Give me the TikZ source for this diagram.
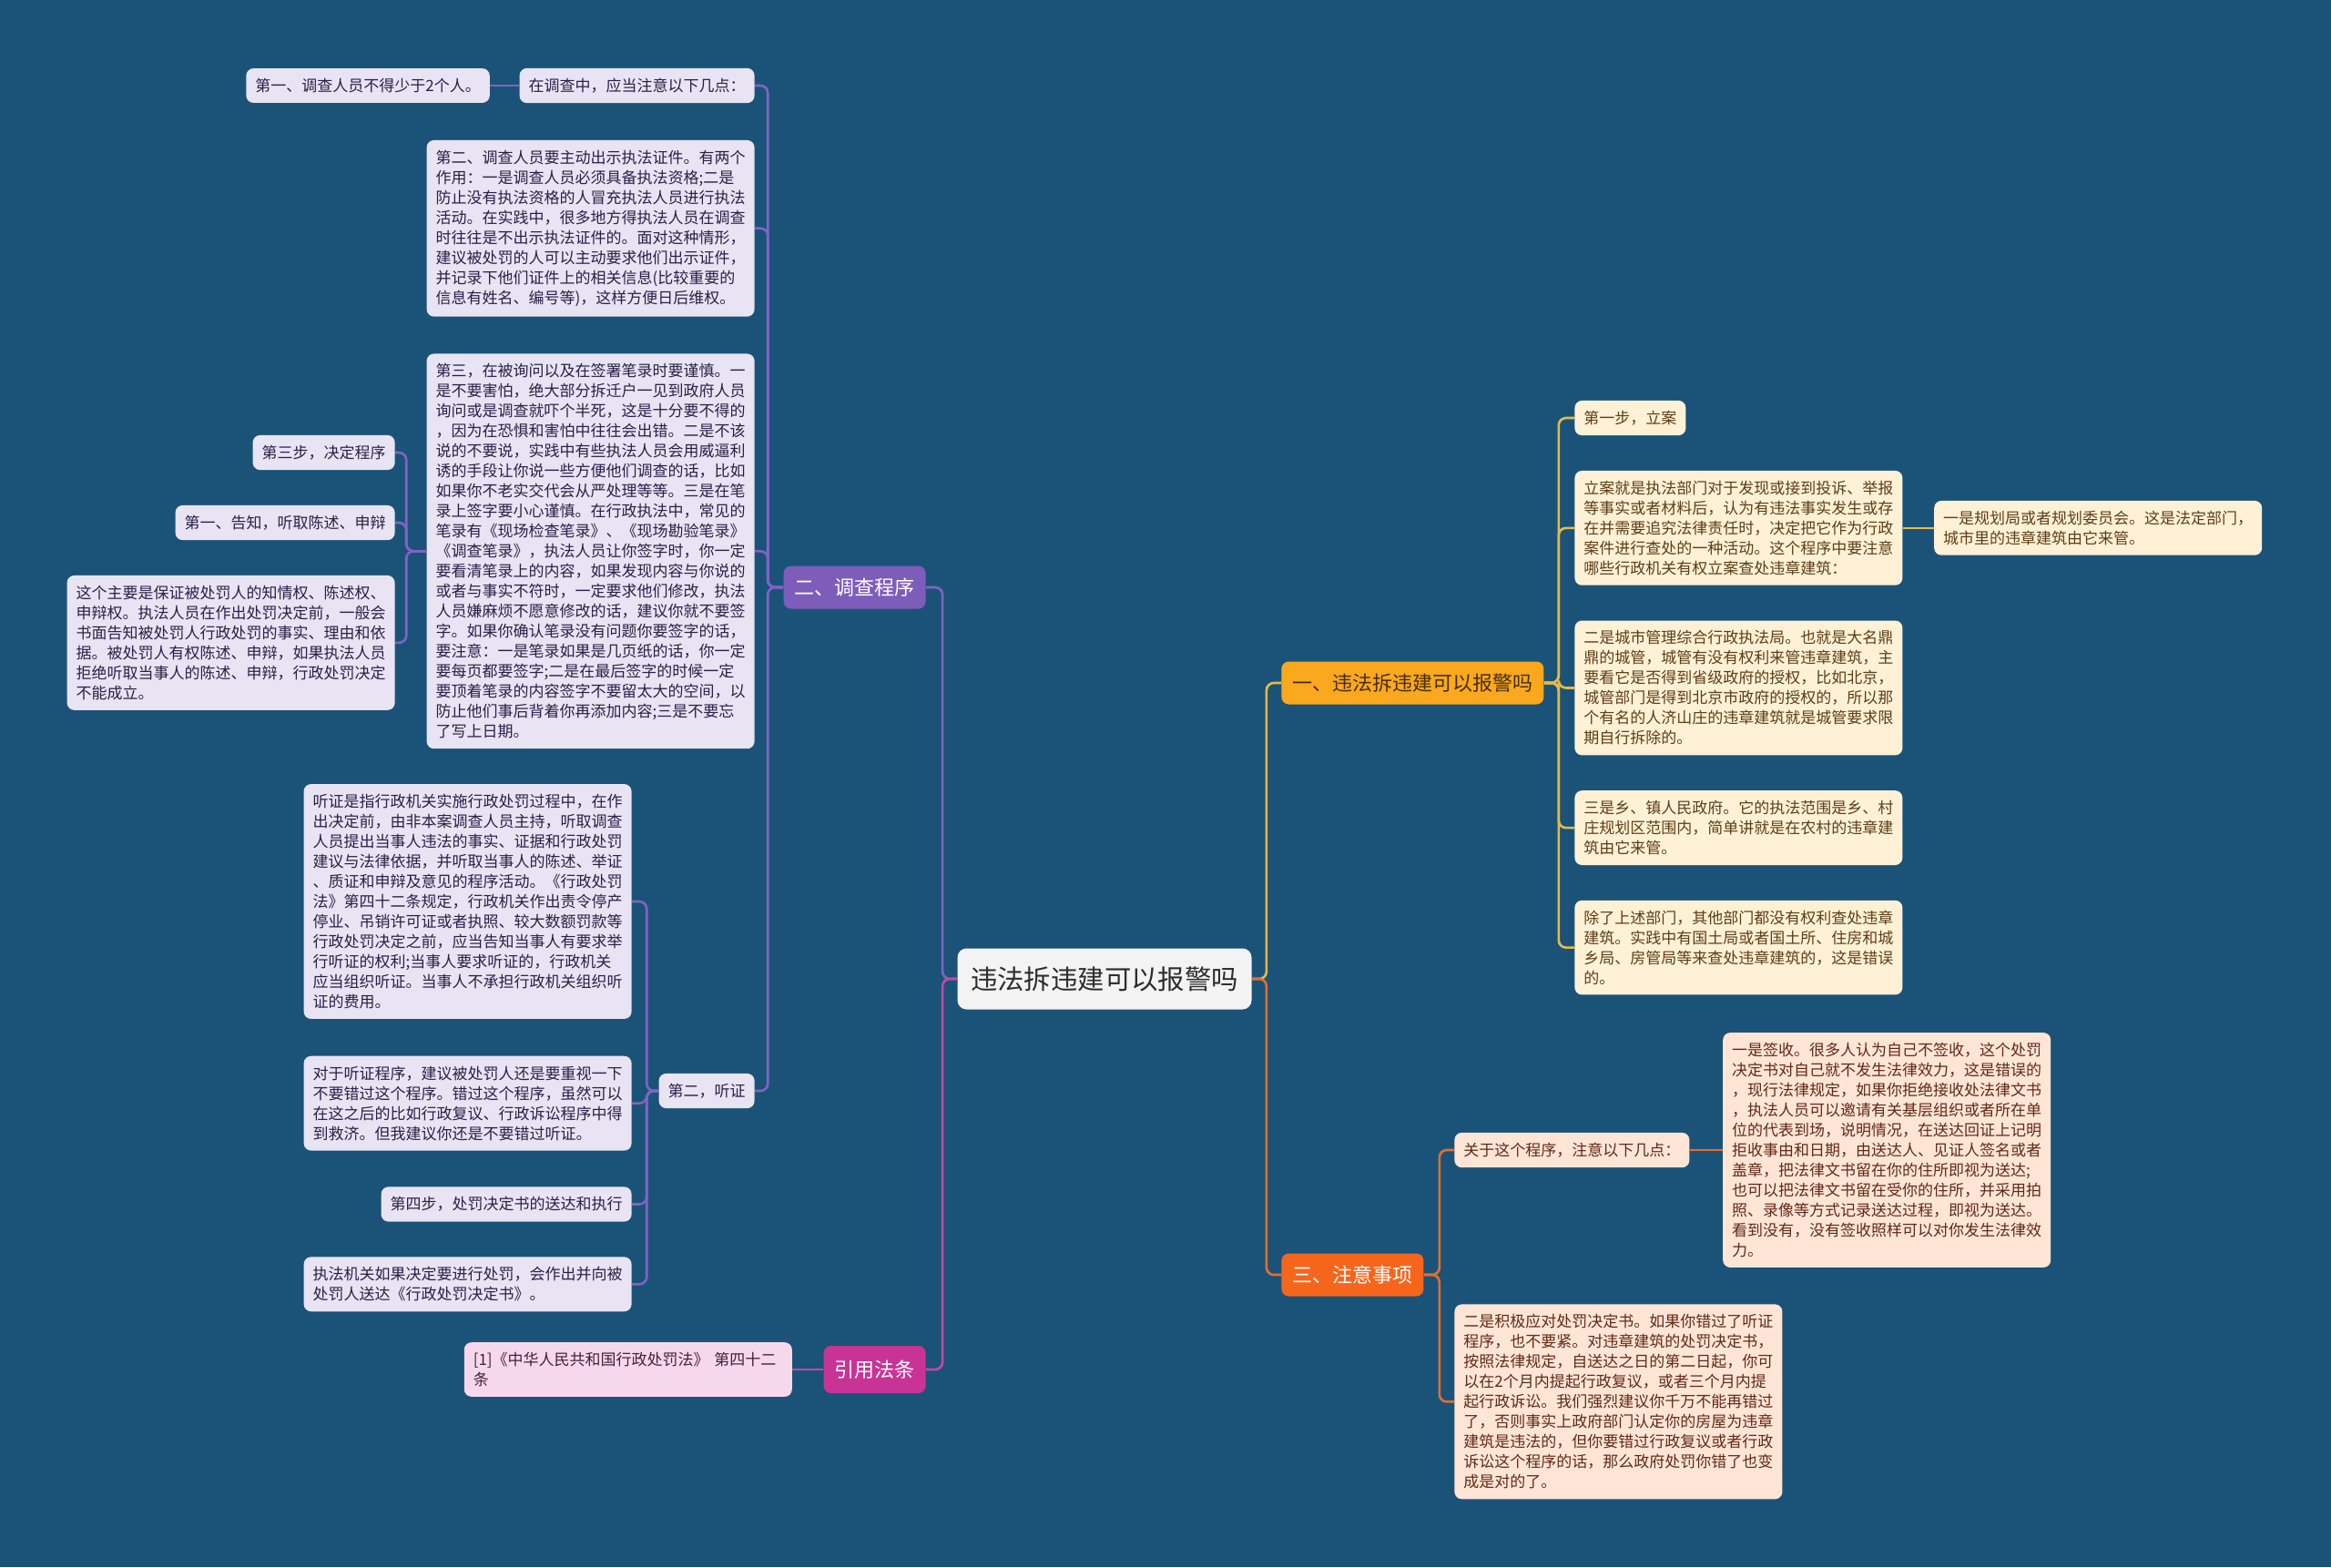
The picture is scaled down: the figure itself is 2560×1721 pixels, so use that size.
\documentclass[tikz,border=0pt]{standalone}
\usepackage{fontspec}
\newfontfamily\cjk{Noto Sans CJK SC}
\usetikzlibrary{positioning}

\definecolor{bgblue}{RGB}{27,83,120}
\definecolor{rootfill}{RGB}{243,243,243}
\definecolor{roottext}{RGB}{45,45,45}
\definecolor{mainY}{RGB}{250,168,30}
\definecolor{mainYtext}{RGB}{70,45,10}
\definecolor{mainR}{RGB}{245,102,28}
\definecolor{mainP}{RGB}{126,93,186}
\definecolor{mainM}{RGB}{200,52,150}
\definecolor{lineY}{RGB}{232,186,72}
\definecolor{lineR}{RGB}{230,110,45}
\definecolor{lineP}{RGB}{128,100,196}
\definecolor{lineM}{RGB}{198,72,160}
\definecolor{leafYfill}{RGB}{255,241,214}
\definecolor{leafYtext}{RGB}{92,62,22}
\definecolor{leafRfill}{RGB}{255,229,214}
\definecolor{leafRtext}{RGB}{95,42,22}
\definecolor{leafPfill}{RGB}{232,228,243}
\definecolor{leafPtext}{RGB}{42,32,72}
\definecolor{leafMfill}{RGB}{246,216,236}
\definecolor{leafMtext}{RGB}{72,30,62}

\newcommand\leaffont{\cjk\fontsize{8.5pt}{11pt}\selectfont}
\newcommand\branchfont{\cjk\fontsize{11pt}{13pt}\selectfont}
\newcommand\rootfont{\cjk\fontsize{14.7pt}{17pt}\selectfont}

\begin{document}
\begin{tikzpicture}[x=0.5pt, y=-0.5pt]

\tikzset{
    rootbox/.style={fill=rootfill, text=roottext, rounded corners=5pt, minimum width=161.5pt, minimum height=33.5pt, font=\rootfont},
    mainbox/.style={rounded corners=4pt, inner xsep=6pt, inner ysep=0pt, minimum height=23.5pt, font=\branchfont},
    leaf/.style={rounded corners=4pt, inner xsep=5pt, inner ysep=5.5pt, align=left, font=\leaffont},
    leafY/.style={leaf, fill=leafYfill, text=leafYtext},
    leafR/.style={leaf, fill=leafRfill, text=leafRtext},
    leafP/.style={leaf, fill=leafPfill, text=leafPtext},
    leafM/.style={leaf, fill=leafMfill, text=leafMtext},
    ln/.style={line width=1.3pt, rounded corners=4pt},
    lnY/.style={ln, draw=lineY},
    lnR/.style={ln, draw=lineR},
    lnP/.style={ln, draw=lineP},
    lnM/.style={ln, draw=lineM}
}

%background
\fill[bgblue] (0,0) rectangle (2560,1721);

%root
\node[rootbox] (root) at (1213,1075) {违法拆违建可以报警吗};

%%%%%%%%%%%%%%%%%%%%%%%%%%%%%%%%%%%%%%%%%%%%%%%%%%%%%%%%%
%                       right side                      %
%%%%%%%%%%%%%%%%%%%%%%%%%%%%%%%%%%%%%%%%%%%%%%%%%%%%%%%%%

%branch one
\node[mainbox, fill=mainY, text=mainYtext, anchor=west] (b1) at (1407,750) {一、违法拆违建可以报警吗};
\draw[lnY] (root.east) -- ++(16,0) |- (b1.west);

\node[leafY, anchor=west] (l1a) at (1729,459) {第一步，立案};
\node[leafY, below=19pt of l1a.south west, anchor=north west] (l1b) {立案就是执法部门对于发现或接到投诉、举报\\等事实或者材料后，认为有违法事实发生或存\\在并需要追究法律责任时，决定把它作为行政\\案件进行查处的一种活动。这个程序中要注意\\哪些行政机关有权立案查处违章建筑：};
\node[leafY, right=17pt of l1b] (l1b1) {一是规划局或者规划委员会。这是法定部门，\\城市里的违章建筑由它来管。};
\node[leafY, below=19pt of l1b.south west, anchor=north west] (l1c) {二是城市管理综合行政执法局。也就是大名鼎\\鼎的城管，城管有没有权利来管违章建筑，主\\要看它是否得到省级政府的授权，比如北京，\\城管部门是得到北京市政府的授权的，所以那\\个有名的人济山庄的违章建筑就是城管要求限\\期自行拆除的。};
\node[leafY, below=19pt of l1c.south west, anchor=north west] (l1d) {三是乡、镇人民政府。它的执法范围是乡、村\\庄规划区范围内，简单讲就是在农村的违章建\\筑由它来管。};
\node[leafY, below=19pt of l1d.south west, anchor=north west] (l1e) {除了上述部门，其他部门都没有权利查处违章\\建筑。实践中有国土局或者国土所、住房和城\\乡局、房管局等来查处违章建筑的，这是错误\\的。};

\draw[lnY] (b1.east) -- ++(16,0) |- (l1a.west);
\draw[lnY] (b1.east) -- ++(16,0) |- (l1b.west);
\draw[lnY] (b1.east) -- ++(16,0) |- (l1c.west);
\draw[lnY] (b1.east) -- ++(16,0) |- (l1d.west);
\draw[lnY] (b1.east) -- ++(16,0) |- (l1e.west);
\draw[lnY] (l1b.east) -- (l1b1.west);

%branch three
\node[mainbox, fill=mainR, text=white, anchor=west] (b3) at (1407,1400) {三、注意事项};
\draw[lnR] (root.east) -- ++(16,0) |- (b3.west);

\node[leafR, anchor=west] (l3a) at (1597,1263) {关于这个程序，注意以下几点：};
\node[leafR, right=18pt of l3a] (l3a1) {一是签收。很多人认为自己不签收，这个处罚\\决定书对自己就不发生法律效力，这是错误的\\，现行法律规定，如果你拒绝接收处法律文书\\，执法人员可以邀请有关基层组织或者所在单\\位的代表到场，说明情况，在送达回证上记明\\拒收事由和日期，由送达人、见证人签名或者\\盖章，把法律文书留在你的住所即视为送达;\\也可以把法律文书留在受你的住所，并采用拍\\照、录像等方式记录送达过程，即视为送达。\\看到没有，没有签收照样可以对你发生法律效\\力。};
\node[leafR, anchor=north west] (l3b) at (1597,1432) {二是积极应对处罚决定书。如果你错过了听证\\程序，也不要紧。对违章建筑的处罚决定书，\\按照法律规定，自送达之日的第二日起，你可\\以在2个月内提起行政复议，或者三个月内提\\起行政诉讼。我们强烈建议你千万不能再错过\\了，否则事实上政府部门认定你的房屋为违章\\建筑是违法的，但你要错过行政复议或者行政\\诉讼这个程序的话，那么政府处罚你错了也变\\成是对的了。};

\draw[lnR] (b3.east) -- ++(17,0) |- (l3a.west);
\draw[lnR] (b3.east) -- ++(17,0) |- (l3b.west);
\draw[lnR] (l3a.east) -- (l3a1.west);

%%%%%%%%%%%%%%%%%%%%%%%%%%%%%%%%%%%%%%%%%%%%%%%%%%%%%%%%%
%                       left side                       %
%%%%%%%%%%%%%%%%%%%%%%%%%%%%%%%%%%%%%%%%%%%%%%%%%%%%%%%%%

%branch two
\node[mainbox, fill=mainP, text=white, anchor=east] (b2) at (1017,645) {二、调查程序};
\draw[lnP] (root.west) -- ++(-16,0) |- (b2.east);

\node[leafP, anchor=east] (l2a) at (829,94) {在调查中，应当注意以下几点：};
\node[leafP, left=16pt of l2a] (l2a1) {第一、调查人员不得少于2个人。};
\node[leafP, below=20pt of l2a.south east, anchor=north east] (l2b) {第二、调查人员要主动出示执法证件。有两个\\作用：一是调查人员必须具备执法资格;二是\\防止没有执法资格的人冒充执法人员进行执法\\活动。在实践中，很多地方得执法人员在调查\\时往往是不出示执法证件的。面对这种情形，\\建议被处罚的人可以主动要求他们出示证件，\\并记录下他们证件上的相关信息(比较重要的\\信息有姓名、编号等)，这样方便日后维权。};
\node[leafP, below=20pt of l2b.south east, anchor=north east] (l2c) {第三，在被询问以及在签署笔录时要谨慎。一\\是不要害怕，绝大部分拆迁户一见到政府人员\\询问或是调查就吓个半死，这是十分要不得的\\，因为在恐惧和害怕中往往会出错。二是不该\\说的不要说，实践中有些执法人员会用威逼利\\诱的手段让你说一些方便他们调查的话，比如\\如果你不老实交代会从严处理等等。三是在笔\\录上签字要小心谨慎。在行政执法中，常见的\\笔录有《现场检查笔录》、《现场勘验笔录》\\《调查笔录》，执法人员让你签字时，你一定\\要看清笔录上的内容，如果发现内容与你说的\\或者与事实不符时，一定要求他们修改，执法\\人员嫌麻烦不愿意修改的话，建议你就不要签\\字。如果你确认笔录没有问题你要签字的话，\\要注意：一是笔录如果是几页纸的话，你一定\\要每页都要签字;二是在最后签字的时候一定\\要顶着笔录的内容签字不要留太大的空间，以\\防止他们事后背着你再添加内容;三是不要忘\\了写上日期。};
\node[leafP, anchor=east] (l2d) at (829,1198) {第二，听证};

\draw[lnP] (b2.west) -- ++(-17,0) |- (l2a.east);
\draw[lnP] (b2.west) -- ++(-17,0) |- (l2b.east);
\draw[lnP] (b2.west) -- ++(-17,0) |- (l2c.east);
\draw[lnP] (b2.west) -- ++(-17,0) |- (l2d.east);
\draw[lnP] (l2a.west) -- (l2a1.east);

%children of the third point
\node[leafP, anchor=east] (l2c1) at (434,497) {第三步，决定程序};
\node[leafP, below=19pt of l2c1.south east, anchor=north east] (l2c2) {第一、告知，听取陈述、申辩};
\node[leafP, below=19pt of l2c2.south east, anchor=north east] (l2c3) {这个主要是保证被处罚人的知情权、陈述权、\\申辩权。执法人员在作出处罚决定前，一般会\\书面告知被处罚人行政处罚的事实、理由和依\\据。被处罚人有权陈述、申辩，如果执法人员\\拒绝听取当事人的陈述、申辩，行政处罚决定\\不能成立。};

\draw[lnP] (l2c.west) -- ++(-22,0) |- (l2c1.east);
\draw[lnP] (l2c.west) -- ++(-22,0) |- (l2c2.east);
\draw[lnP] (l2c.west) -- ++(-22,0) |- (l2c3.east);

%children of the hearing
\node[leafP, anchor=east] (l2d1) at (694,990) {听证是指行政机关实施行政处罚过程中，在作\\出决定前，由非本案调查人员主持，听取调查\\人员提出当事人违法的事实、证据和行政处罚\\建议与法律依据，并听取当事人的陈述、举证\\、质证和申辩及意见的程序活动。《行政处罚\\法》第四十二条规定，行政机关作出责令停产\\停业、吊销许可证或者执照、较大数额罚款等\\行政处罚决定之前，应当告知当事人有要求举\\行听证的权利;当事人要求听证的，行政机关\\应当组织听证。当事人不承担行政机关组织听\\证的费用。};
\node[leafP, below=20pt of l2d1.south east, anchor=north east] (l2d2) {对于听证程序，建议被处罚人还是要重视一下\\不要错过这个程序。错过这个程序，虽然可以\\在这之后的比如行政复议、行政诉讼程序中得\\到救济。但我建议你还是不要错过听证。};
\node[leafP, below=19.5pt of l2d2.south east, anchor=north east] (l2d3) {第四步，处罚决定书的送达和执行};
\node[leafP, below=19pt of l2d3.south east, anchor=north east] (l2d4) {执法机关如果决定要进行处罚，会作出并向被\\处罚人送达《行政处罚决定书》。};

\draw[lnP] (l2d.west) -- ++(-13,0) |- (l2d1.east);
\draw[lnP] (l2d.west) -- ++(-13,0) |- (l2d2.east);
\draw[lnP] (l2d.west) -- ++(-13,0) |- (l2d3.east);
\draw[lnP] (l2d.west) -- ++(-13,0) |- (l2d4.east);

%cited law
\node[mainbox, fill=mainM, text=white, minimum height=26pt, anchor=east] (bref) at (1017,1504) {引用法条};
\draw[lnM] (root.west) -- ++(-16,0) |- (bref.east);

\node[leafM, text width=170pt, left=17pt of bref] (ref1) {[1]《中华人民共和国行政处罚法》 第四十二\\条};
\draw[lnM] (bref.west) -- (ref1.east);

\end{tikzpicture}
\end{document}
